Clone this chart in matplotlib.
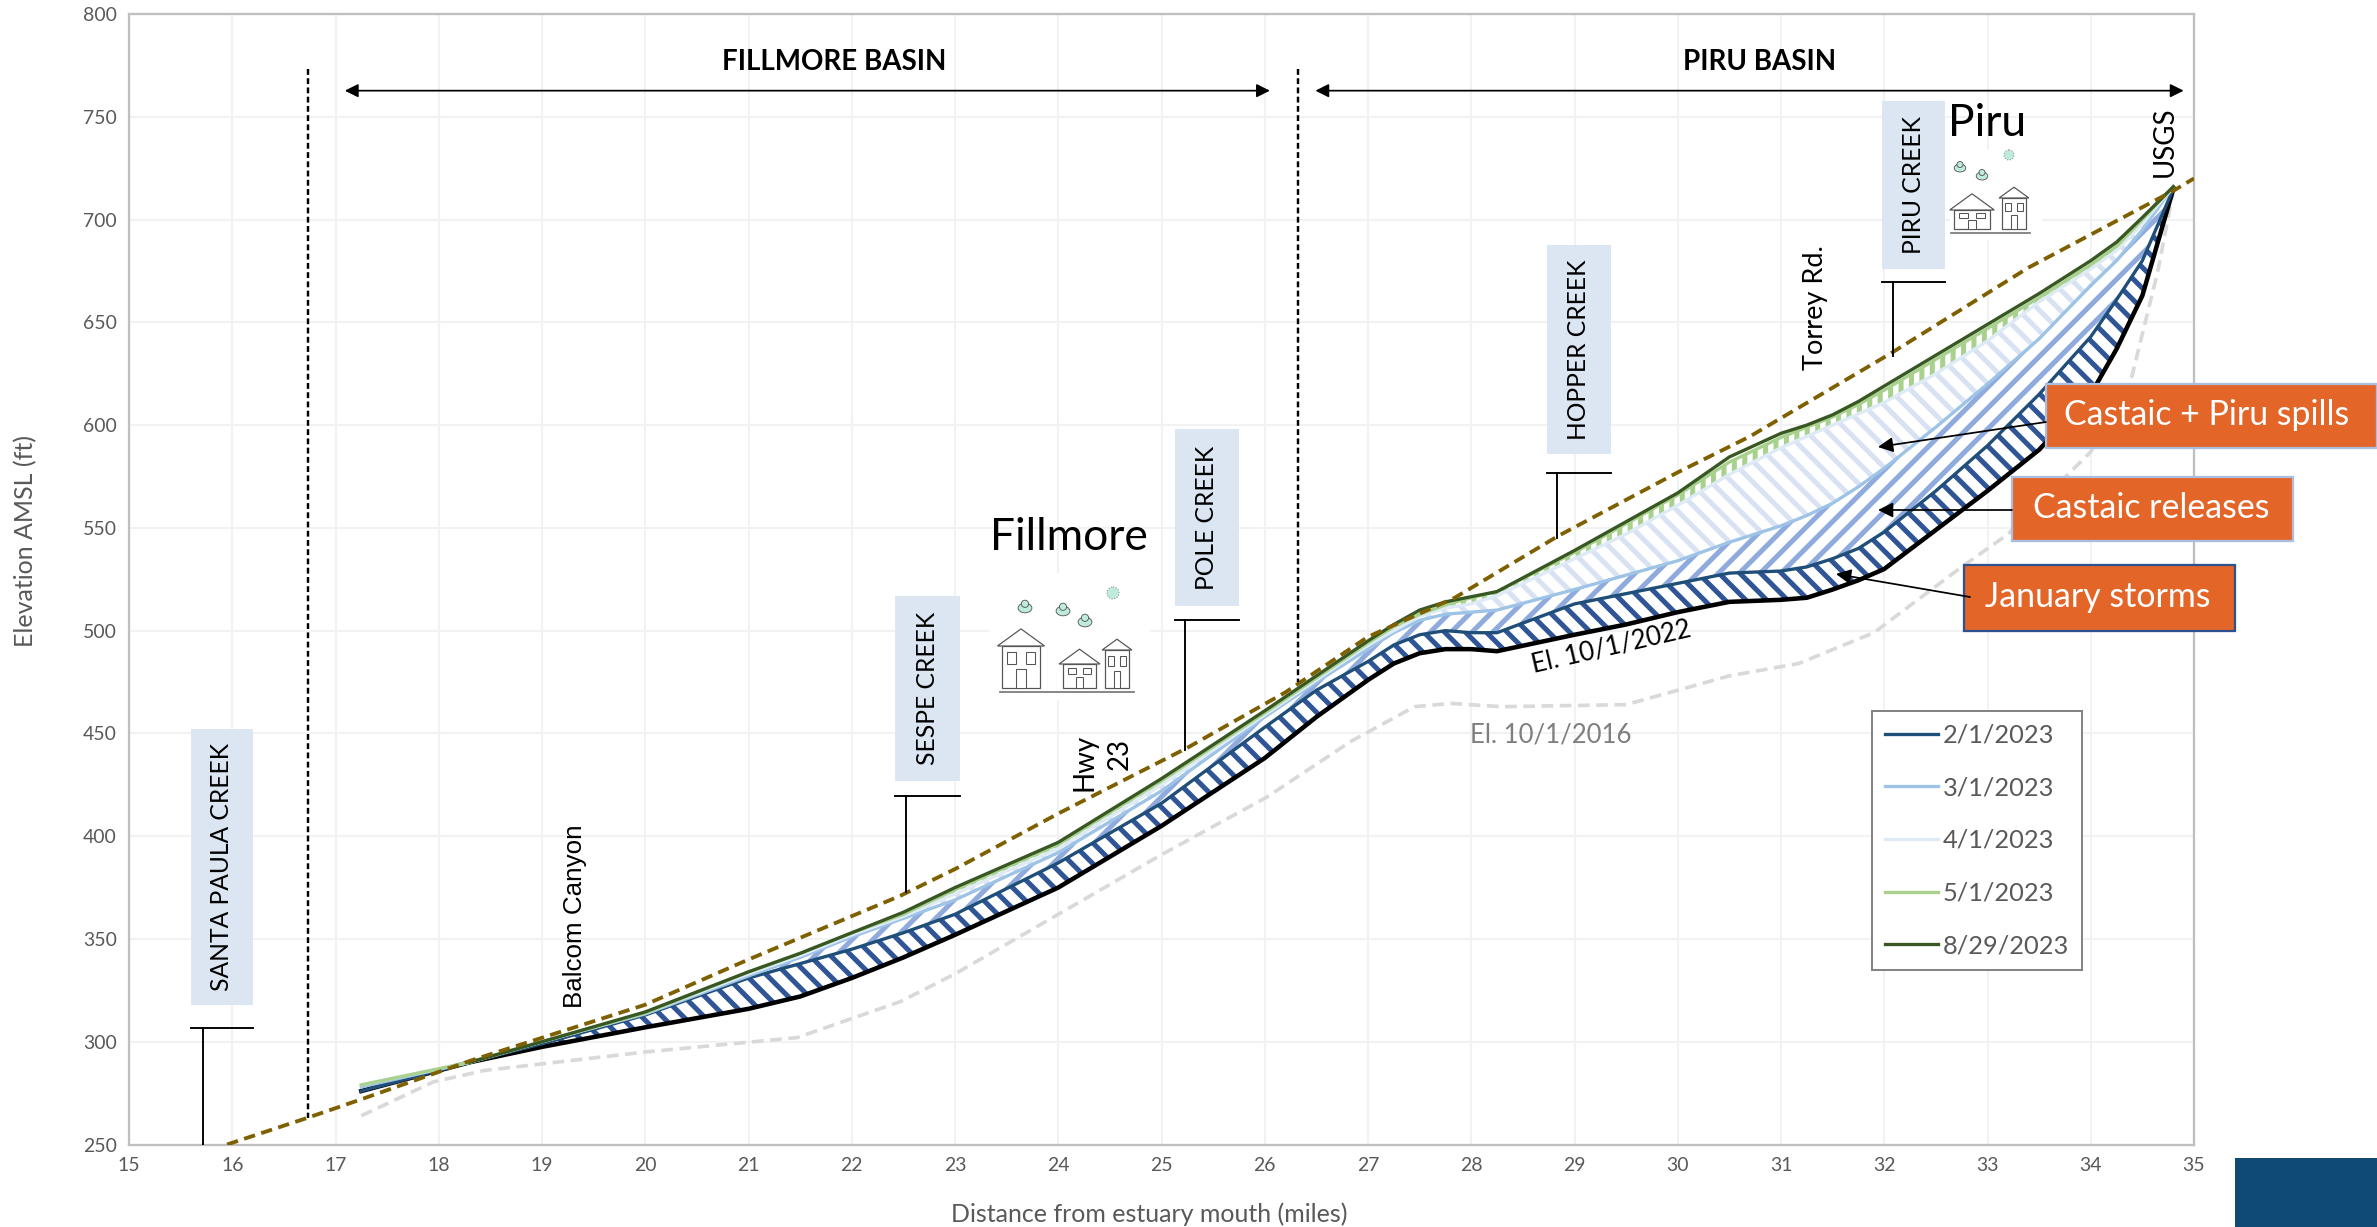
import matplotlib
matplotlib.use("Agg")
import matplotlib.pyplot as plt
from matplotlib.patches import Rectangle, Polygon, Circle, Ellipse

# stations along the river (miles) shared by the groundwater profiles
mile = [17.25, 18.3, 19, 20, 21, 21.5, 22, 22.5, 23, 24, 25, 26, 26.5, 27, 27.25, 27.5, 27.75, 28, 28.25,
        29, 29.5, 30, 30.5, 31, 31.25, 31.5, 31.75, 32, 32.5, 33, 33.5, 34, 34.25, 34.5, 34.8]

el_oct22 = [276, 290, 297.5, 307, 316, 322, 331, 341, 352, 375, 405, 438, 458, 476, 484, 489, 491, 491, 490,
            498, 503, 509, 514, 515, 516, 520, 524.5, 530, 549, 568, 588, 615, 637, 663, 715]
el_feb = [276, 290, 299, 313, 331, 338, 345, 353, 362, 387, 416, 453, 471, 485, 493, 498, 500, 499, 499,
          513, 518, 523, 528, 529, 531, 535, 540, 548, 568, 590, 615, 643, 661, 680, 715]
el_mar = [278, 290, 300, 313.5, 332, 341, 351, 360, 369, 392, 422, 458, 475, 491, 499, 505, 508, 509, 510,
          520, 527, 534, 543, 551, 556, 562, 570, 579, 599, 620, 642, 668, 680, 695, 716]
el_apr = [279, 290, 300, 314, 333, 342, 352, 361, 372, 394, 425, 459, 476, 493, 500, 507, 511, 513, 517,
          535, 547, 561, 576, 589, 594.5, 600, 605.5, 611, 625, 641, 660, 676, 685, 698, 716]
el_may = [279, 290, 300, 314, 334, 343, 353, 362, 374, 396, 427, 460, 477, 494, 502, 508, 512.5, 516, 519,
          538, 552, 566, 582, 594, 599, 604, 610, 617, 632, 647, 662, 678, 687, 700, 716]
# the August survey only starts at the second station
el_aug = [290, 300, 314.5, 334, 343, 353, 363, 375, 397, 428, 461, 478, 495, 503, 510, 514, 516.5, 519,
          539, 553, 567, 584.5, 596, 600, 605, 611.5, 619, 634, 649, 664, 680, 689, 701, 716]

ground_mile = [15.95, 16.73, 17.25, 18.32, 20, 21, 22.47, 23, 24, 25.25, 26.2, 27, 27.84, 28.84,
               30, 30.7, 32.06, 33.4, 34.8, 35]
ground_el = [250, 263, 272, 291, 318, 340, 371, 384, 411, 443, 470, 497, 516, 546,
             577, 594.5, 634.8, 676.7, 714, 720]

old_mile = [17.25, 17.95, 18.44, 20, 21.47, 22.47, 23, 24, 25, 26.02, 26.83, 27.45, 27.8, 28.3,
            29.5, 30.5, 31.17, 31.9, 32.75, 33.2, 34, 34.4, 34.65, 34.8]
old_el = [264, 280.5, 286, 295, 302, 319.5, 333, 362, 391, 419, 446, 463, 464.6, 463,
          464, 478, 484, 499, 531, 547, 587, 624, 675, 714]

x_ticks = list(range(15, 36))
y_ticks = list(range(250, 801, 50))

# name, stem mile, stem bottom, bar height, box left, box right, box bottom, box top
creek_names = ["SANTA PAULA CREEK", "SESPE CREEK", "POLE CREEK", "HOPPER CREEK", "PIRU CREEK"]
creek_stem = [15.72, 22.53, 25.23, 28.83, 32.08]
creek_foot = [250, 373, 441.8, 545, 633.6]
creek_bar = [306.8, 419.7, 505, 576.8, 669.8]
creek_left = [15.6, 22.42, 25.13, 28.73, 31.98]
creek_right = [16.2, 23.05, 25.75, 29.35, 32.59]
creek_low = [317.9, 427, 511.9, 585.7, 675.7]
creek_high = [452.1, 517, 598.2, 687.5, 757.6]

W, H = 2377, 1227
DPI = 125
TXT = "#595959"
plt.rcParams["font.family"] = ["Lato", "DejaVu Sans"]
plt.rcParams["hatch.linewidth"] = 2.9

fig = plt.figure(figsize=(W / DPI, H / DPI), dpi=DPI)
ax = fig.add_axes([129 / W, 1 - 1144.5 / H, 2065 / W, 1130.5 / H])
ax.set_xlim(15, 35)
ax.set_ylim(250, 800)
ax.set_xticks(x_ticks)
ax.set_yticks(y_ticks)
ax.grid(color="#F2F2F2", lw=1.2)
ax.set_axisbelow(True)
ax.tick_params(length=0, labelsize=11.2, labelcolor=TXT, pad=7)
for s in ax.spines.values():
    s.set_color("#BFBFBF")
    s.set_linewidth(1.3)
ax.set_xlabel("Distance from estuary mouth (miles)", fontsize=14.4, color=TXT)
ax.set_ylabel("Elevation AMSL (ft)", fontsize=14.4, color=TXT)
ax.xaxis.set_label_coords(0.494, -0.051)
ax.yaxis.set_label_coords(-0.0445, 0.534)

# hatched bands between surveys
ax.fill_between(mile, el_oct22, el_feb, facecolor="white", edgecolor="#2F5597", hatch="\\\\", lw=0, zorder=2)
ax.fill_between(mile, el_feb, el_mar, facecolor="white", edgecolor="#8FAADC", hatch="//", lw=0, zorder=2)
ax.fill_between(mile, el_mar, el_apr, facecolor="white", edgecolor="#D9E2F3", hatch="\\\\", lw=0, zorder=2)
ax.fill_between(mile, el_apr, el_may, facecolor="white", edgecolor="#A9D18E", hatch="||", lw=0, zorder=2)

ax.plot(old_mile, old_el, color="#D9D9D9", lw=2.1, ls=(0, (3.2, 1.8)), zorder=3)
ax.plot(mile, el_oct22, color="black", lw=2.6, zorder=3)
ax.plot(mile, el_feb, color="#1F4E79", lw=1.9, zorder=4, label="2/1/2023")
ax.plot(mile, el_mar, color="#9DC3E6", lw=1.9, zorder=4, label="3/1/2023")
ax.plot(mile, el_apr, color="#DEEBF7", lw=1.9, zorder=4, label="4/1/2023")
ax.plot(mile, el_may, color="#A9D18E", lw=1.9, zorder=4, label="5/1/2023")
ax.plot(mile[1:], el_aug, color="#385723", lw=1.9, zorder=5, label="8/29/2023")
ax.plot(ground_mile, ground_el, color="#7F6000", lw=2.2, ls=(0, (3, 1.7)), zorder=6)

leg = ax.legend(loc="upper left", bbox_to_anchor=(0.844, 0.3835), borderaxespad=0, fontsize=14.6,
                labelcolor=TXT, labelspacing=1.17, handlelength=2.1, handletextpad=0.2,
                fancybox=False, framealpha=1, edgecolor="#7F7F7F", borderpad=0.5)
leg.get_frame().set_linewidth(1.1)
leg.set_zorder(8)

# basin dividers and extents
for x_div, y_low in [(16.73, 263), (26.32, 475)]:
    ax.plot([x_div, x_div], [773, y_low], color="black", lw=1.4, ls=(0, (2.4, 1.4)), zorder=6)
for x0, x1 in [(17.09, 26.05), (26.49, 34.9)]:
    ax.annotate("", xy=(x1, 762.7), xytext=(x0, 762.7),
                arrowprops=dict(arrowstyle="<|-|>", color="black", lw=1, mutation_scale=16,
                                shrinkA=0, shrinkB=0), zorder=6)
ax.text(21.83, 776.7, "FILLMORE BASIN", fontsize=16, weight="bold", ha="center", va="center")
ax.text(30.79, 776.7, "PIRU BASIN", fontsize=16, weight="bold", ha="center", va="center")

# creek tags
for i, name in enumerate(creek_names):
    ax.add_patch(Rectangle((creek_left[i], creek_low[i]), creek_right[i] - creek_left[i],
                           creek_high[i] - creek_low[i], fc="#DCE6F2", ec="none", zorder=3))
    ax.text((creek_left[i] + creek_right[i]) / 2, (creek_low[i] + creek_high[i]) / 2, name,
            rotation=90, fontsize=14.2, ha="center", va="center", zorder=7)
    ax.plot([creek_left[i], creek_right[i]], [creek_bar[i]] * 2, color="black", lw=1.1, zorder=6)
    ax.plot([creek_stem[i]] * 2, [creek_foot[i], creek_bar[i]], color="black", lw=1.1, zorder=6)

# road and gauge labels
ax.text(19.32, 361, "Balcom Canyon", rotation=90, fontsize=15, family="Liberation Sans",
        ha="center", va="center", zorder=7)
ax.text(24.25, 436, "Hwy", rotation=90, fontsize=16, ha="center", va="center", zorder=7)
ax.text(24.6, 440, "23", rotation=90, fontsize=16, ha="center", va="center", zorder=7)
ax.text(31.33, 657, "Torrey Rd.", rotation=90, fontsize=15.6, ha="center", va="center", zorder=7)
ax.text(34.72, 738, "USGS", rotation=90, fontsize=16, ha="center", va="center", zorder=7)
ax.text(29.36, 492, "El. 10/1/2022", rotation=13, fontsize=15, ha="center", va="center", zorder=7)
ax.text(28.77, 449, "El. 10/1/2016", fontsize=14.8, color="#7F7F7F", ha="center", va="center", zorder=7)

# overlay in pixels for the callouts and the little town pictures
top = fig.add_axes([0, 0, 1, 1], facecolor="none", zorder=10)
top.set_xlim(0, W)
top.set_ylim(H, 0)
top.axis("off")

top.add_patch(Rectangle((2235, 1158), W - 2235, H - 1158, fc="#0F4A75", ec="none"))

callouts = [("Castaic + Piru spills", 2046, W, 384, 448, 2207, "#A9BEE0", (2046, 422), (1878, 447)),
            ("Castaic releases", 2012, 2293, 477, 541, 2151, "#A9BEE0", (2012, 510), (1878, 510)),
            ("January storms", 1964, 2235, 565, 631, 2098, "#2F528F", (1970, 597), (1836, 574))]
for label, x0, x1, y0, y1, xt, edge, start, tip in callouts:
    top.annotate("", xy=tip, xytext=start,
                 arrowprops=dict(arrowstyle="-|>", color="black", lw=1, mutation_scale=18,
                                 shrinkA=0, shrinkB=0))
    top.add_patch(Rectangle((x0, y0), x1 - x0, y1 - y0, fc="#E46528", ec=edge, lw=1.3))
    top.text(xt, (y0 + y1) / 2 - 1, label, color="white", fontsize=19.5, ha="center", va="center")


def house(x, y, w, h):
    # x, y is the lower left corner of the walls
    c = "#555555"
    top.add_patch(Rectangle((x, y - h), w, h, fc="white", ec=c, lw=0.7))
    top.add_patch(Polygon([(x - w * 0.12, y - h), (x + w / 2, y - h - w * 0.45), (x + w * 1.12, y - h)],
                          fc="white", ec=c, lw=0.7))
    top.add_patch(Rectangle((x + w * 0.38, y - h * 0.45), w * 0.24, h * 0.45, fc="white", ec=c, lw=0.6))
    for dx in (0.14, 0.62):
        top.add_patch(Rectangle((x + w * dx, y - h * 0.85), w * 0.24, h * 0.28, fc="white", ec=c, lw=0.6))


def cloud(x, y, r):
    top.add_patch(Ellipse((x, y), r * 2.3, r * 1.6, fc="#BDEBDD", ec="#555555", lw=0.5))
    top.add_patch(Circle((x, y - r * 0.7), r * 0.6, fc="#BDEBDD", ec="#555555", lw=0.5))


def sun(x, y, r):
    top.add_patch(Circle((x, y), r, fc="#BDEBDD", ec="#888888", lw=0.6, ls=":"))


# Fillmore
top.add_patch(Rectangle((989, 573), 161, 127, fc="white", ec="none"))
top.text(1069, 537, "Fillmore", fontsize=25.6, ha="center", va="center")
house(1002, 688, 38, 42)
house(1063, 688, 33, 24)
house(1105, 688, 24, 38)
top.plot([1000, 1134], [692, 692], color="#777777", lw=1)
cloud(1025, 608, 6)
cloud(1063, 611, 6)
cloud(1085, 622, 6)
sun(1113, 593, 6)

# Piru
top.add_patch(Rectangle((1950, 150), 92, 90, fc="white", ec="none"))
top.text(1987, 124, "Piru", fontsize=25.6, ha="center", va="center")
house(1954, 229, 36, 19)
house(2002, 229, 24, 31)
top.plot([1951, 2030], [233, 233], color="#777777", lw=1)
cloud(1960, 168, 5)
cloud(1982, 176, 5)
sun(2009, 155, 5)

fig.savefig("out.png", dpi=DPI)
